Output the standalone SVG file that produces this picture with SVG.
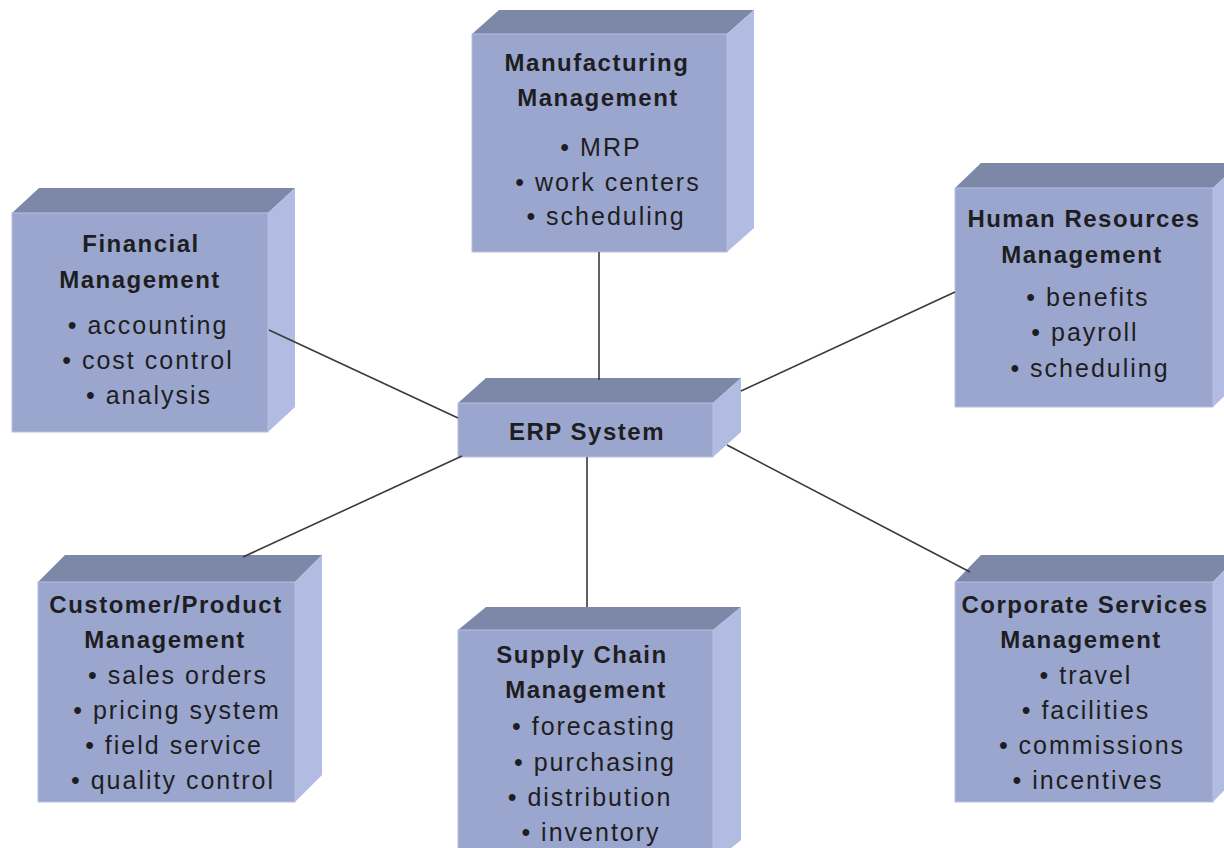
<svg xmlns="http://www.w3.org/2000/svg" width="1224" height="848" viewBox="0 0 1224 848">
<style>
.front{fill:#9ba6ce;stroke:#b7c0e2;stroke-width:1}
.top{fill:#7d88a9}
.side{fill:#b2bce2}
.t{font-family:"Liberation Sans",Arial,Helvetica,sans-serif;font-weight:bold;font-size:24px;letter-spacing:1.5px;fill:#1e1e22;text-anchor:middle}
.b{font-family:"Liberation Sans",Arial,Helvetica,sans-serif;font-size:25px;letter-spacing:2px;fill:#1e1e22;text-anchor:middle}
.c{stroke:#3a3a3a;stroke-width:1.6;fill:none}
</style>
<rect width="1224" height="848" fill="#ffffff"/>
<g id="manufacturing">
<polygon class="top" points="472,34 499,10 754,10 727,34"/>
<polygon class="side" points="727,34 754,10 754,228 727,252"/>
<rect class="front" x="472" y="34" width="255" height="218"/>
<text class="t" x="597" y="71">Manufacturing</text>
<text class="t" x="598" y="106">Management</text>
<text class="b" x="601" y="156">• MRP</text>
<text class="b" x="608" y="191">• work centers</text>
<text class="b" x="606" y="225">• scheduling</text>
</g>
<g id="financial">
<polygon class="top" points="12,213 39,188 295,188 268,213"/>
<polygon class="side" points="268,213 295,188 295,407 268,432"/>
<rect class="front" x="12" y="213" width="256" height="219"/>
<text class="t" x="141" y="252">Financial</text>
<text class="t" x="140" y="288">Management</text>
<text class="b" x="148" y="334">• accounting</text>
<text class="b" x="148" y="369">• cost control</text>
<text class="b" x="149" y="404">• analysis</text>
</g>
<g id="human-resources">
<polygon class="top" points="955,188 981,163 1239,163 1213,188"/>
<polygon class="side" points="1213,188 1239,163 1239,382 1213,407"/>
<rect class="front" x="955" y="188" width="258" height="219"/>
<text class="t" x="1084" y="227">Human Resources</text>
<text class="t" x="1082" y="263">Management</text>
<text class="b" x="1088" y="306">• benefits</text>
<text class="b" x="1085" y="341">• payroll</text>
<text class="b" x="1090" y="377">• scheduling</text>
</g>
<g id="erp-system">
<polygon class="top" points="458,403 486,378 741,378 713,403"/>
<polygon class="side" points="713,403 741,378 741,432 713,457"/>
<rect class="front" x="458" y="403" width="255" height="54"/>
<text class="t" x="587" y="440">ERP System</text>
</g>
<g id="customer-product">
<polygon class="top" points="38,582 65,555 322,555 295,582"/>
<polygon class="side" points="295,582 322,555 322,775 295,802"/>
<rect class="front" x="38" y="582" width="257" height="220"/>
<text class="t" x="166" y="613">Customer/Product</text>
<text class="t" x="165" y="648">Management</text>
<text class="b" x="178" y="684">• sales orders</text>
<text class="b" x="177" y="719">• pricing system</text>
<text class="b" x="174" y="754">• field service</text>
<text class="b" x="173" y="789">• quality control</text>
</g>
<g id="supply-chain">
<polygon class="top" points="458,630 486,607 741,607 713,630"/>
<polygon class="side" points="713,630 741,607 741,840 713,863"/>
<rect class="front" x="458" y="630" width="255" height="230"/>
<text class="t" x="582" y="663">Supply Chain</text>
<text class="t" x="586" y="698">Management</text>
<text class="b" x="594" y="735">• forecasting</text>
<text class="b" x="595" y="771">• purchasing</text>
<text class="b" x="590" y="806">• distribution</text>
<text class="b" x="591" y="841">• inventory</text>
</g>
<g id="corporate-services">
<polygon class="top" points="955,582 981,555 1239,555 1213,582"/>
<polygon class="side" points="1213,582 1239,555 1239,775 1213,802"/>
<rect class="front" x="955" y="582" width="258" height="220"/>
<text class="t" x="1085" y="613">Corporate Services</text>
<text class="t" x="1081" y="648">Management</text>
<text class="b" x="1086" y="684">• travel</text>
<text class="b" x="1086" y="719">• facilities</text>
<text class="b" x="1092" y="754">• commissions</text>
<text class="b" x="1088" y="789">• incentives</text>
</g>
<g id="connectors">
<line class="c" x1="599" y1="252" x2="599" y2="380"/>
<line class="c" x1="269" y1="330" x2="458" y2="418"/>
<line class="c" x1="955" y1="292" x2="741" y2="391"/>
<line class="c" x1="243" y1="557" x2="462" y2="456"/>
<line class="c" x1="587" y1="457" x2="587" y2="607"/>
<line class="c" x1="727" y1="445" x2="970" y2="572"/>
</g>
</svg>
